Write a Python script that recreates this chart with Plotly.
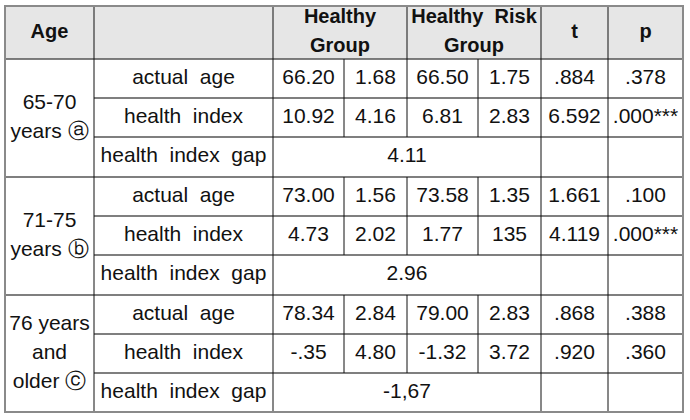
import plotly.graph_objects as go

# ---------------- data ----------------
header_labels = ["Age", "", "Healthy<br>Group", "Healthy\u00a0 Risk<br>Group", "t", "p"]
age_groups = ["65-70<br>years \u24d0", "71-75<br>years \u24d1", "76 years<br>and<br>older \u24d2"]
measures = ["actual\u00a0 age", "health\u00a0 index", "health\u00a0 index\u00a0 gap"]

healthy_mean = ["66.20", "10.92", "73.00", "4.73", "78.34", "-.35"]
healthy_sd = ["1.68", "4.16", "1.56", "2.02", "2.84", "4.80"]
risk_mean = ["66.50", "6.81", "73.58", "1.77", "79.00", "-1.32"]
risk_sd = ["1.75", "2.83", "1.35", "135", "2.83", "3.72"]
t_values = [".884", "6.592", "1.661", "4.119", ".868", ".920"]
p_values = [".378", ".000***", ".100", ".000***", ".388", ".360"]
index_gap = ["4.11", "2.96", "-1,67"]

# ---------------- layout geometry ----------------
XE = [5, 94, 273, 344, 407, 478, 541, 608, 683]
YE = [6, 59, 98, 137, 177, 216, 255, 295, 334, 373, 412]
LINE_STEP = 29

FONT = "Liberation Sans, Arial, sans-serif"
LINE_H = "#555555"
LINE_V = "#111111"
BORDER = "#8a8a8a"


def mid(a, b):
    return (a + b) / 2


def split_lines(xs, ys, texts):
    ox, oy, ot = [], [], []
    for x, y, t in zip(xs, ys, texts):
        parts = t.split("<br>")
        n = len(parts)
        for k, p in enumerate(parts):
            ox.append(x)
            oy.append(y + (k - (n - 1) / 2) * LINE_STEP)
            ot.append(p)
    return ox, oy, ot


shapes = []
shapes.append(dict(type="rect", x0=XE[0], x1=XE[-1], y0=YE[0], y1=YE[1],
                   fillcolor="#e6e6e6", line=dict(width=0), layer="below"))


def hline(y, x0, x1, color=LINE_H, w=1.3):
    shapes.append(dict(type="line", x0=x0, x1=x1, y0=y, y1=y, line=dict(color=color, width=w)))


def vline(x, y0, y1, color=LINE_V, w=1):
    shapes.append(dict(type="line", x0=x, x1=x, y0=y0, y1=y1, line=dict(color=color, width=w)))


hline(YE[1], XE[0], XE[-1])
for g in range(3):
    top = 1 + 3 * g
    hline(YE[top + 1], XE[1], XE[-1])
    hline(YE[top + 2], XE[1], XE[-1])
    if g < 2:
        hline(YE[top + 3], XE[0], XE[-1])
    for xi in (3, 4, 5):
        vline(XE[xi], YE[top], YE[top + 2])

for xi in (1, 2, 6, 7):
    vline(XE[xi], YE[0], YE[-1])
vline(XE[4], YE[0], YE[1])

shapes.append(dict(type="rect", x0=XE[0], x1=XE[-1], y0=YE[0], y1=YE[-1],
                   line=dict(color=BORDER, width=2), fillcolor="rgba(0,0,0,0)"))

fig = go.Figure()

# header text
hx = [mid(XE[0], XE[1]), mid(XE[1], XE[2]), mid(XE[2], XE[4]), mid(XE[4], XE[6]),
      mid(XE[6], XE[7]), mid(XE[7], XE[8])]
x, y, t = split_lines(hx, [mid(YE[0], YE[1])] * len(hx), header_labels)
fig.add_trace(go.Scatter(
    x=x, y=y, mode="text", text=["<b>%s</b>" % s if s else "" for s in t],
    textfont=dict(family=FONT, size=20, color="#111111"),
    textposition="middle center", hoverinfo="skip", showlegend=False))

# age group labels
x, y, t = split_lines([mid(XE[0], XE[1])] * 3,
                      [mid(YE[1 + 3 * g], YE[4 + 3 * g]) for g in range(3)],
                      age_groups)
fig.add_trace(go.Scatter(
    x=x, y=y, mode="text", text=t,
    textfont=dict(family=FONT, size=21, color="#111111"),
    textposition="middle center", hoverinfo="skip", showlegend=False))

# measure labels
mx, my, mt = [], [], []
for g in range(3):
    for r in range(3):
        mx.append(mid(XE[1], XE[2]))
        my.append(mid(YE[1 + 3 * g + r], YE[2 + 3 * g + r]))
        mt.append(measures[r])
fig.add_trace(go.Scatter(
    x=mx, y=my, mode="text", text=mt,
    textfont=dict(family=FONT, size=21, color="#111111"),
    textposition="middle center", hoverinfo="skip", showlegend=False))

# numeric cells
cols = [healthy_mean, healthy_sd, risk_mean, risk_sd, t_values, p_values]
cx, cy, ct = [], [], []
for ci, col in enumerate(cols):
    for i, v in enumerate(col):
        g, r = divmod(i, 2)
        cx.append(mid(XE[2 + ci], XE[3 + ci]))
        cy.append(mid(YE[1 + 3 * g + r], YE[2 + 3 * g + r]))
        ct.append(v)
for g, v in enumerate(index_gap):
    cx.append(mid(XE[2], XE[6]))
    cy.append(mid(YE[3 + 3 * g], YE[4 + 3 * g]))
    ct.append(v)
fig.add_trace(go.Scatter(
    x=cx, y=cy, mode="text", text=ct,
    textfont=dict(family=FONT, size=21, color="#111111"),
    textposition="middle center", hoverinfo="skip", showlegend=False))

fig.update_layout(
    width=690, height=420,
    margin=dict(l=0, r=0, t=0, b=0),
    paper_bgcolor="white", plot_bgcolor="white",
    xaxis=dict(range=[0, 690], visible=False, fixedrange=True),
    yaxis=dict(range=[420, 0], visible=False, fixedrange=True),
    shapes=shapes,
    showlegend=False,
)

fig.write_html("out.html", config={"displayModeBar": False},
               post_script="document.body.style.margin='0';document.body.style.overflow='hidden';")
